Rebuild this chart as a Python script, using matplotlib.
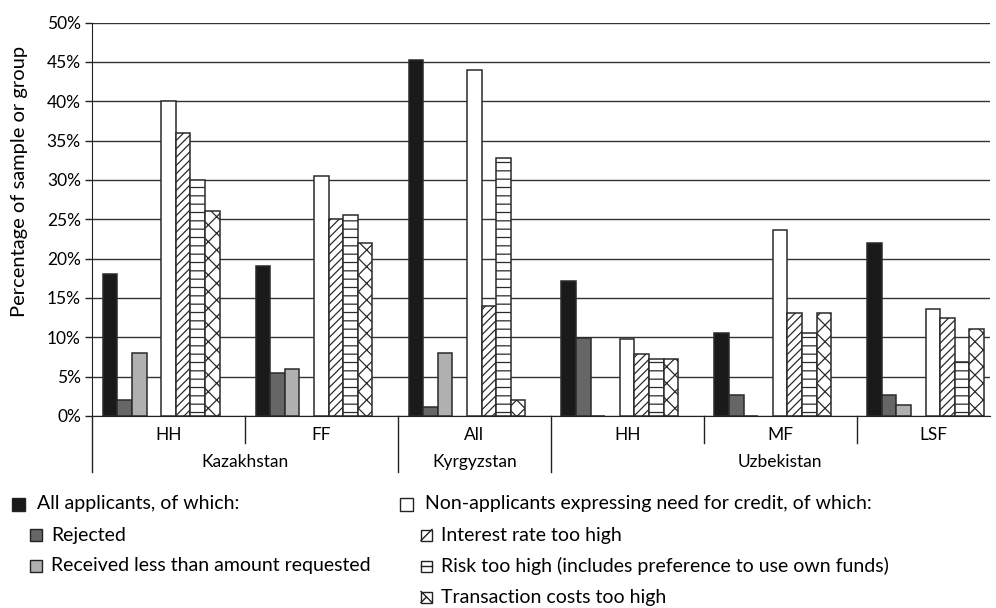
import numpy as np
import matplotlib
matplotlib.use("Agg")
import matplotlib.pyplot as plt
from matplotlib.patches import Rectangle
from matplotlib import transforms

plt.rcParams['font.family'] = ['Lato', 'DejaVu Sans']
plt.rcParams['hatch.linewidth'] = 0.9

# === Data (percent) ===
groups = ["HH", "FF", "All", "HH", "MF", "LSF"]
countries = ["Kazakhstan", "Kyrgyzstan", "Uzbekistan"]
country_span = [(0, 2), (2, 3), (3, 6)]

all_applicants = [18.0, 19.0, 45.2, 17.2, 10.5, 22.0]
rejected = [2.0, 5.5, 1.2, 9.9, 2.7, 2.7]
received_less = [8.0, 6.0, 8.0, 0.0, 0.0, 1.4]
non_applicants = [40.0, 30.5, 44.0, 9.8, 23.6, 13.6]
interest_high = [36.0, 25.0, 14.0, 7.9, 13.1, 12.4]
risk_high = [30.0, 25.5, 32.8, 7.2, 10.5, 6.8]
transaction_high = [26.0, 22.0, 2.0, 7.2, 13.1, 11.0]

# === Figure ===
W, H = 996, 608
fig = plt.figure(figsize=(W / 100, H / 100), dpi=100)
ax_left, ax_right, ax_top, ax_bot = 92, 990, 22.5, 416
ax = fig.add_axes([ax_left / W, (H - ax_bot) / H,
                   (ax_right - ax_left) / W, (ax_bot - ax_top) / H])

grp_px = 152.9
bw = 1 / 10.47
off = (1 - 9 * bw) / 2
x = np.arange(len(groups))

series = [
    (all_applicants, 0, dict(color="#1a1a1a")),
    (rejected, 1, dict(color="#666666")),
    (received_less, 2, dict(color="#b0b0b0")),
    (non_applicants, 4, dict(color="white")),
    (interest_high, 5, dict(color="white", hatch="////")),
    (risk_high, 6, dict(color="white", hatch="--")),
    (transaction_high, 7, dict(color="white", hatch="xx")),
]
for vals, slot, style in series:
    ax.bar(x + off + (slot + 0.5) * bw, vals, width=bw, edgecolor="#2a2a2a",
           linewidth=1.1, zorder=3, **style)

ax.set_xlim(0, (ax_right - ax_left) / grp_px)
ax.set_ylim(0, 50)
ax.set_yticks(np.arange(0, 51, 5))
ax.set_yticklabels([f"{v}%" for v in range(0, 51, 5)], fontsize=12.5)
ax.yaxis.grid(True, color="#333333", linewidth=1.0, zorder=0)
ax.set_axisbelow(True)
ax.set_xticks([])
ax.tick_params(axis="y", length=5, width=1, color="#222222", pad=3)
for s in ["top", "right"]:
    ax.spines[s].set_visible(False)
ax.spines["left"].set_color("#222222")
ax.spines["bottom"].set_color("#222222")

# Category axis: two levels of labels and separators
ax_h = ax_bot - ax_top
trans = transforms.blended_transform_factory(ax.transData, ax.transAxes)
short_y = -(443 - ax_bot) / ax_h
long_y = -(472 - ax_bot) / ax_h
country_edges = {c0 for c0, c1 in country_span} | {c1 for c0, c1 in country_span}
for b in range(len(groups) + 1):
    yb = long_y if b in country_edges else short_y
    ax.plot([b, b], [0, yb], transform=trans, color="#222222", lw=1.0,
            clip_on=False)
for i, g in enumerate(groups):
    ax.text(i + 0.5, -(435 - ax_bot) / ax_h, g, transform=trans,
            ha="center", va="center", fontsize=12.5, clip_on=False)
for c, (c0, c1) in zip(countries, country_span):
    ax.text((c0 + c1) / 2, -(462 - ax_bot) / ax_h, c, transform=trans,
            ha="center", va="center", fontsize=12.5, clip_on=False)

fig.text(20 / W, 1 - 181 / H, "Percentage of sample or group", rotation=90,
         ha="center", va="center", fontsize=14.5)

# === Legend (drawn in pixel coordinates) ===
lg = fig.add_axes([0, 0, 1, 1], zorder=5)
lg.set_xlim(0, W)
lg.set_ylim(H, 0)
lg.axis("off")
lg.patch.set_alpha(0)

def box(x0, yc, size, face, lw=1.0):
    lg.add_patch(Rectangle((x0, yc - size / 2), size, size, facecolor=face,
                           edgecolor="#222222", linewidth=lw))

leg_fs = 14
box(12, 504, 13, "#1a1a1a")
lg.text(37, 504, "All applicants, of which:", va="center", fontsize=leg_fs)
box(30, 535, 12, "#666666")
lg.text(51, 535, "Rejected", va="center", fontsize=leg_fs)
box(30, 566, 12, "#b0b0b0")
lg.text(51, 566, "Received less than amount requested", va="center", fontsize=leg_fs)

box(400, 504, 13, "white")
lg.text(425, 504, "Non-applicants expressing need for credit, of which:",
        va="center", fontsize=leg_fs)
s = 11
x0 = 421
box(x0, 535, s, "white")
lg.plot([x0, x0 + s], [535 + s / 2, 535 - s / 2], color="#222222", lw=1.0)
lg.text(441, 535, "Interest rate too high", va="center", fontsize=leg_fs)
box(x0, 566, s, "white")
lg.plot([x0, x0 + s], [566, 566], color="#222222", lw=1.0)
lg.text(441, 566, "Risk too high (includes preference to use own funds)",
        va="center", fontsize=leg_fs)
box(x0, 597, s, "white")
lg.plot([x0, x0 + s], [597 - s / 2, 597 + s / 2], color="#222222", lw=1.0)
lg.plot([x0, x0 + s / 2], [597 + s / 2, 597], color="#222222", lw=1.0)
lg.text(441, 597, "Transaction costs too high", va="center", fontsize=leg_fs)

fig.savefig("out.png", dpi=100)
